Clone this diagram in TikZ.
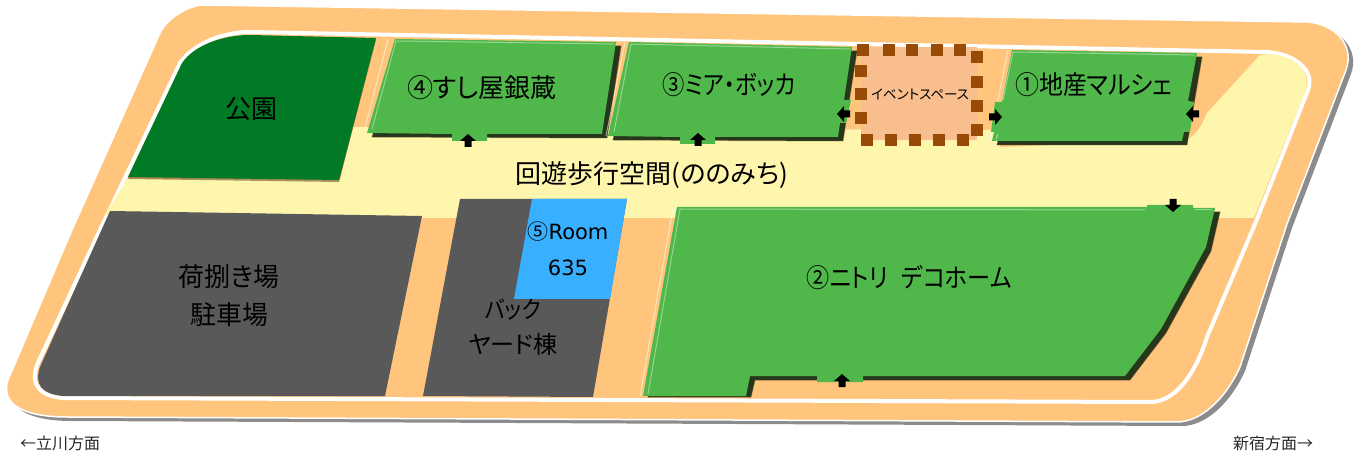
\documentclass[tikz,border=0pt]{standalone}
\usepackage{fontspec}
\setmainfont{Noto Sans CJK JP}[RawFeature=+palt]
\newfontfamily\latinfont{DejaVu Sans}
\definecolor{roadc}{HTML}{FFC57C}
\definecolor{walkc}{HTML}{FFF6AE}
\definecolor{shopc}{HTML}{50B84B}
\definecolor{shadec}{HTML}{26381C}
\definecolor{parkc}{HTML}{007A25}
\definecolor{greyc}{HTML}{595959}
\definecolor{bluec}{HTML}{39B0FF}
\definecolor{eventc}{HTML}{F8BE8E}
\definecolor{brownc}{HTML}{984B06}
\definecolor{edgec}{HTML}{8C8C8C}
\tikzset{
  shopshade/.style={fill=shadec,draw=brown!50!black,draw opacity=.4,line width=1pt,shift={(5,4)}},
  shopbody/.style={fill=shopc},
  gleam/.style={draw=white,draw opacity=.4,line width=1pt},
  paleedge/.style={draw=white,draw opacity=.55,line width=1pt},
  arrowtip/.style={fill=black},
  lbl/.style={text=black,inner sep=0pt,align=center,font=\fontsize{26}{38}\selectfont},
  smalllabel/.style={text=black!85,inner sep=0pt,font=\fontsize{16}{18}\selectfont}
}
\newcommand{\doorarrow}[3]{%
  \fill[arrowtip,shift={(#1,#2)},rotate=#3] (0,-7)--(8,0)--(3.5,0)--(3.5,6)--(-3.5,6)--(-3.5,0)--(-8,0)--cycle;}
\newcommand{\brownsq}[2]{\fill[brownc] (#1-6,#2-6) rectangle (#1+6,#2+6);}
\newcommand{\narrowed}[2]{\scalebox{#1}[1]{#2}}
\def\outerpath{(200,5) -- (1307,22) .. controls (1335,24) and (1355,45) .. (1346,70) -- (1287,224) -- (1240,367) .. controls (1225,400) and (1200,422) .. (1177,422) -- (67,417) .. controls (25,417) and (0,405) .. (8,380) -- (72,230) -- (160,33) .. controls (168,18) and (185,8) .. (200,5) -- cycle}
\def\innerpath{(250,32) -- (1267,52) .. controls (1295,54) and (1315,70) .. (1308,90) -- (1255,224) -- (1207,337) .. controls (1195,375) and (1175,402) .. (1150,402) -- (63,398) .. controls (40,396) and (30,385) .. (37,365) -- (100,230) -- (180,63) .. controls (195,42) and (225,32) .. (250,32) -- cycle}
\def\parkpath{(182,63) .. controls (195,44) and (225,35) .. (250,35) -- (376,38) -- (339,180) -- (128,177) -- cycle}
\begin{document}
\begin{tikzpicture}[x=1pt,y=-1pt]
\useasboundingbox (0,0) rectangle (1355,454);
% ground
\fill[edgec,shift={(5,4)}] \outerpath;
\fill[roadc,draw=white,line width=1.5pt] \outerpath;
\draw[white,line width=4pt] \innerpath;
% walkway
\fill[walkc] (105,214) -- (128,178) -- (340,180) -- (353,127) -- (1000,130) -- (1000,147) -- (1185,140) .. controls (1195,136) and (1200,130) .. (1207,113) -- (1260,55) -- (1270,54) .. controls (1295,56) and (1312,70) .. (1305,92) -- (1254,218) -- (420,218) -- cycle;
% park
\fill[black!50!brown,opacity=.55,shift={(0,2)}] \parkpath;
\fill[parkc] \parkpath;
% parking
\fill[greyc] (110,211) -- (422,216) -- (385,396) -- (63,396) .. controls (42,394) and (34,385) .. (40,367) -- cycle;
% back yard
\fill[greyc] (460,199) -- (627,199) -- (593,397) -- (423,396) -- cycle;
\fill[bluec] (532,199) -- (627,199) -- (610,299) -- (514,299) -- cycle;
% event space
\fill[eventc] (861,47) rectangle (977,140);
% shop 4
\draw[paleedge] (388,39) -- (365,128);
\fill[shopshade] (395,39) -- (616,42) -- (602,134) -- (367,133) -- cycle;
\fill[shopbody] (395,39) -- (616,42) -- (602,134) -- (487,134) -- (487,141) -- (452,141) -- (452,134) -- (367,133) -- cycle;
\draw[gleam] (372,129) -- (396,41) -- (614,44);
% shop 3
\draw[paleedge] (625,42) -- (606,136);
\fill[shopshade] (629,42) -- (852,47) -- (838,137) -- (608,136) -- cycle;
\fill[shopbody] (629,42) -- (852,47) -- (844,100) -- (851,100) -- (846,123) -- (840,123) -- (838,137) -- (715,137) -- (715,144) -- (680,144) -- (680,137) -- (608,136) -- cycle;
\draw[gleam] (614,132) -- (631,44) -- (850,49);
% shop 1
\draw[paleedge] (1008,50) -- (990,140);
\fill[shopshade] (1012,50) -- (1197,53) -- (1182,141) -- (992,141) -- cycle;
\fill[shopbody] (1012,50) -- (1197,53) -- (1188,101) -- (1194,102) -- (1190,132) -- (1184,132) -- (1182,141) -- (992,141) -- (994,132) -- (991,132) -- (995,102) -- (1002,102) -- cycle;
\draw[gleam] (996,140) -- (998,134);
\draw[gleam] (1003,100) -- (1013,52) -- (1195,55);
% shop 2
\draw[paleedge] (673,208) -- (640,396);
\fill[shopshade] (677,207) -- (1215,208) -- (1206,247) -- (1161,329) -- (1125,376) -- (750,376) -- (746,393) -- (643,393) -- cycle;
\fill[shopbody] (677,207) -- (1147,207) -- (1147,205) -- (1193,205) -- (1193,208) -- (1215,208) -- (1206,247) -- (1161,329) -- (1125,376) -- (863,376) -- (863,382) -- (817,382) -- (817,376) -- (750,376) -- (746,396) -- (643,396) -- cycle;
\draw[gleam] (648,394) -- (680,209) -- (1145,210);
\draw[gleam] (1195,210) -- (1212,210);
% event border
\foreach \px/\py in {863/50,889/50,912/50,937/50,960/50,977/57,977/82,977/106,977/130,963/140,939/140,915/140,891/140,867/140,861/118,861/94,861/71}{\brownsq{\px}{\py}}
% door arrows
\doorarrow{468}{141}{0}
\doorarrow{698}{140}{0}
\doorarrow{844}{114}{90}
\doorarrow{995}{117}{-90}
\doorarrow{1193}{114}{90}
\doorarrow{842}{381}{0}
\doorarrow{1173}{205}{180}
% labels
\node[lbl] (park) at (251,109) {公園};
\node[lbl] (sushi) at (482,88) {④すし屋銀蔵};
\node[lbl] (mia) at (729,85) {\narrowed{.86}{③ミア・ボッカ}};
\node[lbl] (jisan) at (1094,85) {\narrowed{.92}{①地産マルシェ}};
\node[lbl,font=\fontsize{13.5}{16}\selectfont] (event) at (920,94) {イベントスペース};
\node[lbl] (walk) at (652,175) {回遊歩行空間(ののみち)};
\node[lbl,font=\fontsize{21}{36}\selectfont] (room) at (568,249) {⑤{\latinfont Room}\\{\latinfont 635}};
\node[lbl,font=\fontsize{24}{35}\selectfont] (back) at (513,327) {\narrowed{.88}{バック}\\ヤード棟};
\node[lbl] (niyose) at (229,296) {荷捌き場\\駐車場};
\node[lbl] (nitori) at (909,278) {\narrowed{.89}{②ニトリ\hspace{0.6em}デコホーム}};
\node[smalllabel] (west) at (60,443) {←立川方面};
\node[smalllabel] (east) at (1273,443) {新宿方面→};
\end{tikzpicture}
\end{document}
